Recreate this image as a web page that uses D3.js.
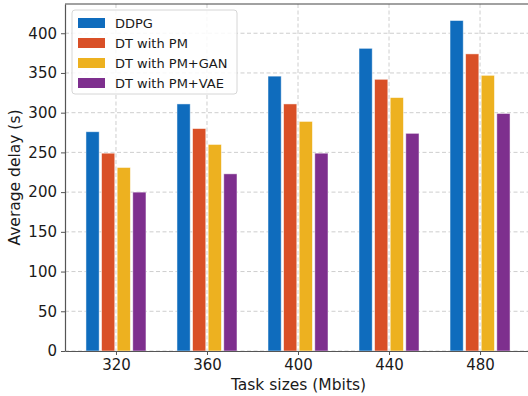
<!DOCTYPE html>
<html>
<head>
<meta charset="utf-8">
<script src="https://cdn.jsdelivr.net/npm/d3@7"></script>
<style>
  body { margin: 0; background: #fff; }
  svg { font-family: "DejaVu Sans", sans-serif; display: block; }
</style>
</head>
<body>
<script>
// chart data
var taskSizes = [320, 360, 400, 440, 480];
var seriesNames = ["DDPG", "DT with PM", "DT with PM+GAN", "DT with PM+VAE"];
var ddpg   = [276, 311, 346, 381, 416];
var dtPM   = [249, 280, 311, 342, 374];
var dtGAN  = [231, 260, 289, 319, 347];
var dtVAE  = [200, 223, 249, 274, 299];
var yTicks = [0, 50, 100, 150, 200, 250, 300, 350, 400];
var colors = ["#0f6cbd", "#d95027", "#edb120", "#7e2f8e"];

var series = [ddpg, dtPM, dtGAN, dtVAE];

var margin = {top: 4, right: 0, bottom: 45, left: 65},
    width = 531 - margin.left,
    height = 351 - margin.top;

var svg = d3.select("body").append("svg")
    .attr("width", 528)
    .attr("height", 396);

var g = svg.append("g")
    .attr("transform", "translate(" + margin.left + "," + margin.top + ")");

// scales
var x = d3.scaleLinear().domain([297.6, 502.4]).range([0, width]);
var y = d3.scaleLinear().domain([0, d3.max(ddpg) * 1.05]).range([height, 0]);

var barW = 13.2, step = 15.6;

// grid
g.append("g").selectAll("line")
    .data(yTicks)
  .enter().append("line")
    .attr("x1", 0).attr("x2", width)
    .attr("y1", function(d) { return y(d); })
    .attr("y2", function(d) { return y(d); })
    .attr("stroke", "#c8c8c8")
    .attr("stroke-width", 0.9)
    .attr("stroke-dasharray", "4,2.5");

g.append("g").selectAll("line")
    .data(taskSizes)
  .enter().append("line")
    .attr("x1", function(d) { return x(d); })
    .attr("x2", function(d) { return x(d); })
    .attr("y1", 0).attr("y2", height)
    .attr("stroke", "#c8c8c8")
    .attr("stroke-width", 0.9)
    .attr("stroke-dasharray", "4,2.5");

// bars
series.forEach(function(vals, s) {
  g.append("g").selectAll("rect")
      .data(vals)
    .enter().append("rect")
      .attr("x", function(d, i) { return x(taskSizes[i]) + (s - 1.5) * step - barW / 2; })
      .attr("y", function(d) { return y(d); })
      .attr("width", barW)
      .attr("height", function(d) { return height - y(d); })
      .attr("fill", colors[s])
      .attr("stroke", "#ffffff")
      .attr("stroke-opacity", 0.6)
      .attr("stroke-width", 0.8);
});

// axes
var xAxis = g.append("g")
    .attr("transform", "translate(0," + height + ")")
    .call(d3.axisBottom(x).tickValues(taskSizes).tickSize(4).tickPadding(4).tickSizeOuter(0));
var yAxis = g.append("g")
    .call(d3.axisLeft(y).tickValues(yTicks).tickSize(4).tickPadding(4).tickSizeOuter(0));

[xAxis, yAxis].forEach(function(a) {
  a.select(".domain").attr("stroke", "#555").attr("stroke-width", 1.2);
  a.selectAll(".tick line").attr("stroke", "#555");
  a.selectAll(".tick text")
      .attr("font-size", 15)
      .attr("fill", "#1a1a1a")
      .attr("font-family", "DejaVu Sans, sans-serif");
});

// top spine
g.append("line")
    .attr("x1", 0).attr("x2", width)
    .attr("y1", 0).attr("y2", 0)
    .attr("stroke", "#444")
    .attr("stroke-width", 1.2);

// axis labels
svg.append("text")
    .attr("x", margin.left + x(400) + 0.5)
    .attr("y", 390)
    .attr("text-anchor", "middle")
    .attr("font-size", 15.5)
    .attr("fill", "#1a1a1a")
    .text("Task sizes (Mbits)");

svg.append("text")
    .attr("transform", "translate(20," + (margin.top + height / 2) + ") rotate(-90)")
    .attr("text-anchor", "middle")
    .attr("font-size", 15.5)
    .attr("fill", "#1a1a1a")
    .text("Average delay (s)");

// legend
var legend = svg.append("g")
    .attr("transform", "translate(72,10)");

legend.append("rect")
    .attr("width", 165)
    .attr("height", 84)
    .attr("rx", 3)
    .attr("fill", "#ffffff")
    .attr("fill-opacity", 0.85)
    .attr("stroke", "#d6d6d6");

var items = legend.selectAll(".item")
    .data(seriesNames)
  .enter().append("g")
    .attr("class", "item")
    .attr("transform", function(d, i) { return "translate(0," + (13 + i * 20) + ")"; });

items.append("rect")
    .attr("x", 6)
    .attr("y", -5)
    .attr("width", 27)
    .attr("height", 10)
    .attr("fill", function(d, i) { return colors[i]; });

items.append("text")
    .attr("x", 43)
    .attr("y", 5)
    .attr("font-size", 13)
    .attr("fill", "#1a1a1a")
    .text(function(d) { return d; });
</script>
</body>
</html>
